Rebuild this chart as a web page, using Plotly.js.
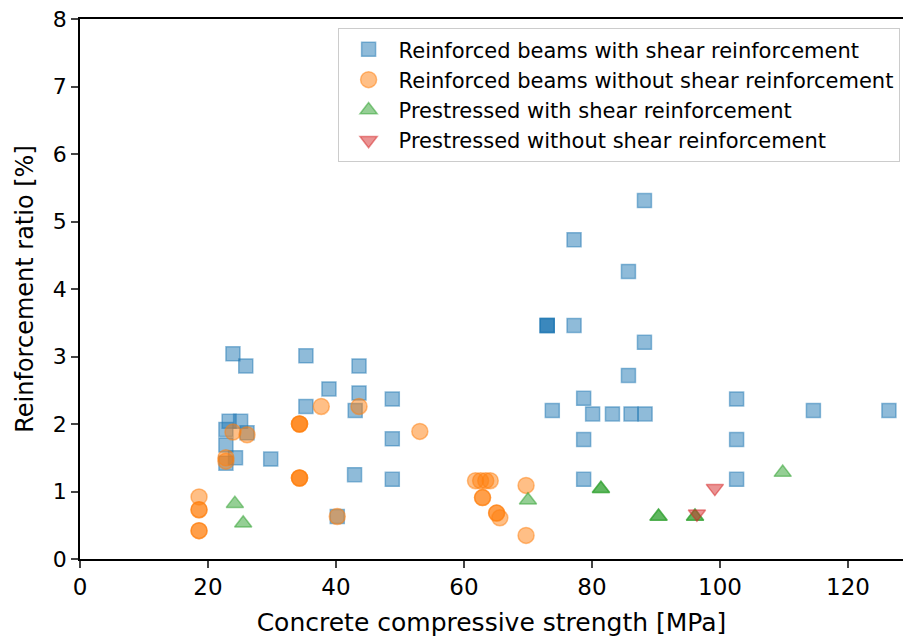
<!DOCTYPE html>
<html><head><meta charset="utf-8">
<script src="https://cdn.plot.ly/plotly-3.0.1.min.js"></script>
<style>html,body{margin:0;padding:0;background:#fff}#chart{width:903px;height:639px}</style>
</head><body><div id="chart"></div>
<script>
// Reinforced beams with shear reinforcement
const rsX = [23.9,25.9,35.3,43.6,38.9,43.6,43.0,35.3,48.8,48.8,48.8,42.9,40.2,29.8,
             23.3,25.1,22.8,26.1,22.8,24.3,22.8,
             88.2,77.2,85.7,73.0,73.0,73.0,77.2,88.2,85.7,78.7,73.8,80.1,83.2,86.1,88.3,78.7,78.7,
             102.6,102.6,102.6,114.6,126.4];
const rsY = [3.04,2.86,3.01,2.86,2.52,2.46,2.20,2.26,2.37,1.78,1.18,1.25,0.63,1.48,
             2.04,2.04,1.92,1.87,1.69,1.50,1.42,
             5.31,4.73,4.26,3.46,3.46,3.46,3.46,3.21,2.72,2.38,2.20,2.15,2.15,2.15,2.15,1.77,1.18,
             2.37,1.77,1.18,2.20,2.20];
// Reinforced beams without shear reinforcement
const rnX = [37.7,43.6,34.3,34.3,34.3,34.3,34.3,34.3,53.1,23.9,26.1,22.8,22.8,18.6,18.6,18.6,18.6,18.6,40.2,
             61.8,62.6,63.4,64.1,62.9,62.9,65.1,65.1,65.6,69.7,69.7];
const rnY = [2.26,2.26,2.0,2.0,2.0,1.2,1.2,1.2,1.89,1.88,1.84,1.50,1.45,0.92,0.73,0.73,0.42,0.42,0.63,
             1.16,1.16,1.16,1.16,0.91,0.91,0.68,0.68,0.61,1.09,0.35];
// Prestressed with shear reinforcement
const psX = [24.2,25.5,70.0,81.4,81.4,90.4,90.4,96.1,96.1,109.8];
const psY = [0.82,0.53,0.87,1.04,1.04,0.63,0.63,0.63,0.63,1.28];
// Prestressed without shear reinforcement
const pnX = [99.2,96.4];
const pnY = [1.05,0.67];

const names = ['Reinforced beams with shear reinforcement','Reinforced beams without shear reinforcement',
               'Prestressed with shear reinforcement','Prestressed without shear reinforcement'];
const colors = ['31,119,180','255,127,14','44,160,44','214,39,40'];
const symbols = ['square','circle','triangle-up','triangle-down'];
const sizes = [14,16,15,15];
const xs = [rsX,rnX,psX,pnX], ys=[rsY,rnY,psY,pnY];

const traces = xs.map((x,i)=>({
  x:x, y:ys[i], type:'scatter', mode:'markers', name:names[i], legendgroup:'g'+i,
  marker:{symbol:symbols[i], size:sizes[i], color:'rgba('+colors[i]+',0.5)',
          line:{color:'rgba('+colors[i]+',0.5)', width:1.5}}
}));

const layout = {
  width:903, height:639, margin:{l:80,r:0,t:19,b:80},
  paper_bgcolor:'#fff', plot_bgcolor:'#fff', showlegend:true,
  font:{family:'DejaVu Sans', color:'#000', size:20},
  xaxis:{range:[0,128.6], tickvals:[0,20,40,60,80,100,120], ticks:'outside', ticklen:7, tickwidth:1.5,
         showline:true, linecolor:'#000', linewidth:1.5, mirror:true, showgrid:false, zeroline:false,
         tickfont:{size:23}, title:{text:'Concrete compressive strength [MPa]', font:{size:25}, standoff:14}},
  yaxis:{range:[0,8], tickvals:[0,1,2,3,4,5,6,7,8], ticks:'outside', ticklen:7, tickwidth:1.5,
         showline:true, linecolor:'#000', linewidth:1.5, showgrid:false, zeroline:false,
         tickfont:{size:22}, title:{text:'Reinforcement ratio [%]', font:{size:24}, standoff:12}},
  legend:{x:0.313, y:0.983, xanchor:'left', yanchor:'top', bgcolor:'rgba(255,255,255,0.8)',
          bordercolor:'#cccccc', borderwidth:1, font:{size:21}, tracegroupgap:0, itemwidth:50}
};
Plotly.newPlot('chart', traces, layout, {displayModeBar:false});
</script></body></html>
